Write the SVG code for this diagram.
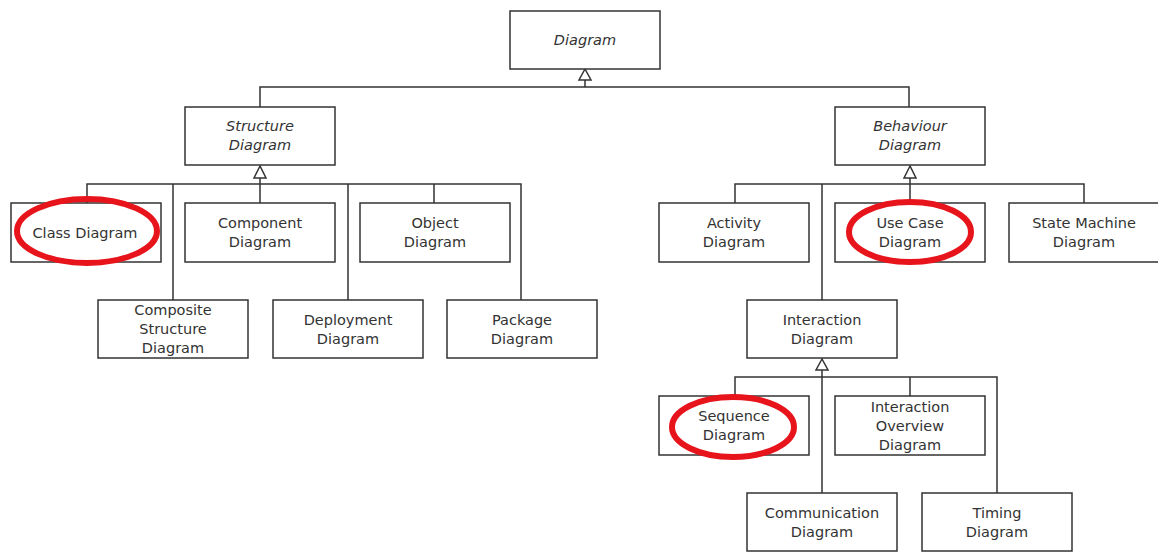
<svg xmlns="http://www.w3.org/2000/svg" width="1158" height="552" viewBox="0 0 1158 552">
<style>
.box{fill:#fff;stroke:#333;stroke-width:1.5}
.t{font-family:"DejaVu Sans","Liberation Sans",sans-serif;font-size:14.5px;fill:#333;text-anchor:middle}
.i{font-style:italic}
.ln{fill:none;stroke:#333;stroke-width:1.5}
.tri{fill:#fff;stroke:#333;stroke-width:1.5}
.hl{fill:none;stroke:#e8141c;stroke-width:6}
</style>
<rect width="1158" height="552" fill="#fff"/>
<g id="connectors">
<path class="ln" d="M585 80V87M260 107V87H909V107"/>
<path class="ln" d="M260 178V184M87 203V184H521V300M173 184V300M260 184V203M348 184V300M434 184V203"/>
<path class="ln" d="M910 178V184M735 203V184H1084V203M822 184V300M910 184V203"/>
<path class="ln" d="M822 370V493M735 396V377H997V493M910 377V396"/>
<polygon class="tri" points="585,69 579,80 591,80"/>
<polygon class="tri" points="260,166 254,178 266,178"/>
<polygon class="tri" points="910,166 904,178 916,178"/>
<polygon class="tri" points="822,359 816,370 828,370"/>
</g>
<g id="n-diagram"><rect class="box" x="510" y="11" width="150" height="58"/><text class="t i" x="585" y="45">Diagram</text></g>
<g id="n-structure"><rect class="box" x="185" y="107" width="150" height="58"/><text class="t i" x="260" y="131">Structure</text><text class="t i" x="260" y="150">Diagram</text></g>
<g id="n-behaviour"><rect class="box" x="835" y="107" width="150" height="58"/><text class="t i" x="910" y="131">Behaviour</text><text class="t i" x="910" y="150">Diagram</text></g>
<g id="n-class"><rect class="box" x="11" y="203" width="150" height="59"/><text class="t" x="85" y="238">Class Diagram</text></g>
<g id="n-component"><rect class="box" x="185" y="203" width="150" height="59"/><text class="t" x="260" y="228">Component</text><text class="t" x="260" y="247">Diagram</text></g>
<g id="n-object"><rect class="box" x="360" y="203" width="150" height="59"/><text class="t" x="435" y="228">Object</text><text class="t" x="435" y="247">Diagram</text></g>
<g id="n-composite"><rect class="box" x="98" y="300" width="150" height="58"/><text class="t" x="173" y="315">Composite</text><text class="t" x="173" y="334">Structure</text><text class="t" x="173" y="353">Diagram</text></g>
<g id="n-deployment"><rect class="box" x="273" y="300" width="150" height="58"/><text class="t" x="348" y="325">Deployment</text><text class="t" x="348" y="344">Diagram</text></g>
<g id="n-package"><rect class="box" x="447" y="300" width="150" height="58"/><text class="t" x="522" y="325">Package</text><text class="t" x="522" y="344">Diagram</text></g>
<g id="n-activity"><rect class="box" x="659" y="203" width="150" height="59"/><text class="t" x="734" y="228">Activity</text><text class="t" x="734" y="247">Diagram</text></g>
<g id="n-usecase"><rect class="box" x="835" y="203" width="150" height="59"/><text class="t" x="910" y="228">Use Case</text><text class="t" x="910" y="247">Diagram</text></g>
<g id="n-statemachine"><rect class="box" x="1009" y="203" width="150" height="59"/><text class="t" x="1084" y="228">State Machine</text><text class="t" x="1084" y="247">Diagram</text></g>
<g id="n-interaction"><rect class="box" x="747" y="300" width="150" height="58"/><text class="t" x="822" y="325">Interaction</text><text class="t" x="822" y="344">Diagram</text></g>
<g id="n-sequence"><rect class="box" x="659" y="396" width="150" height="59"/><text class="t" x="734" y="421">Sequence</text><text class="t" x="734" y="440">Diagram</text></g>
<g id="n-overview"><rect class="box" x="835" y="396" width="150" height="59"/><text class="t" x="910" y="412">Interaction</text><text class="t" x="910" y="431">Overview</text><text class="t" x="910" y="450">Diagram</text></g>
<g id="n-communication"><rect class="box" x="747" y="493" width="150" height="58"/><text class="t" x="822" y="518">Communication</text><text class="t" x="822" y="537">Diagram</text></g>
<g id="n-timing"><rect class="box" x="922" y="493" width="150" height="58"/><text class="t" x="997" y="518">Timing</text><text class="t" x="997" y="537">Diagram</text></g>
<g id="highlights">
<ellipse class="hl" cx="87" cy="231" rx="70" ry="32"/>
<ellipse class="hl" cx="910" cy="232" rx="61" ry="30"/>
<ellipse class="hl" cx="733" cy="427" rx="61" ry="30"/>
</g>
</svg>
